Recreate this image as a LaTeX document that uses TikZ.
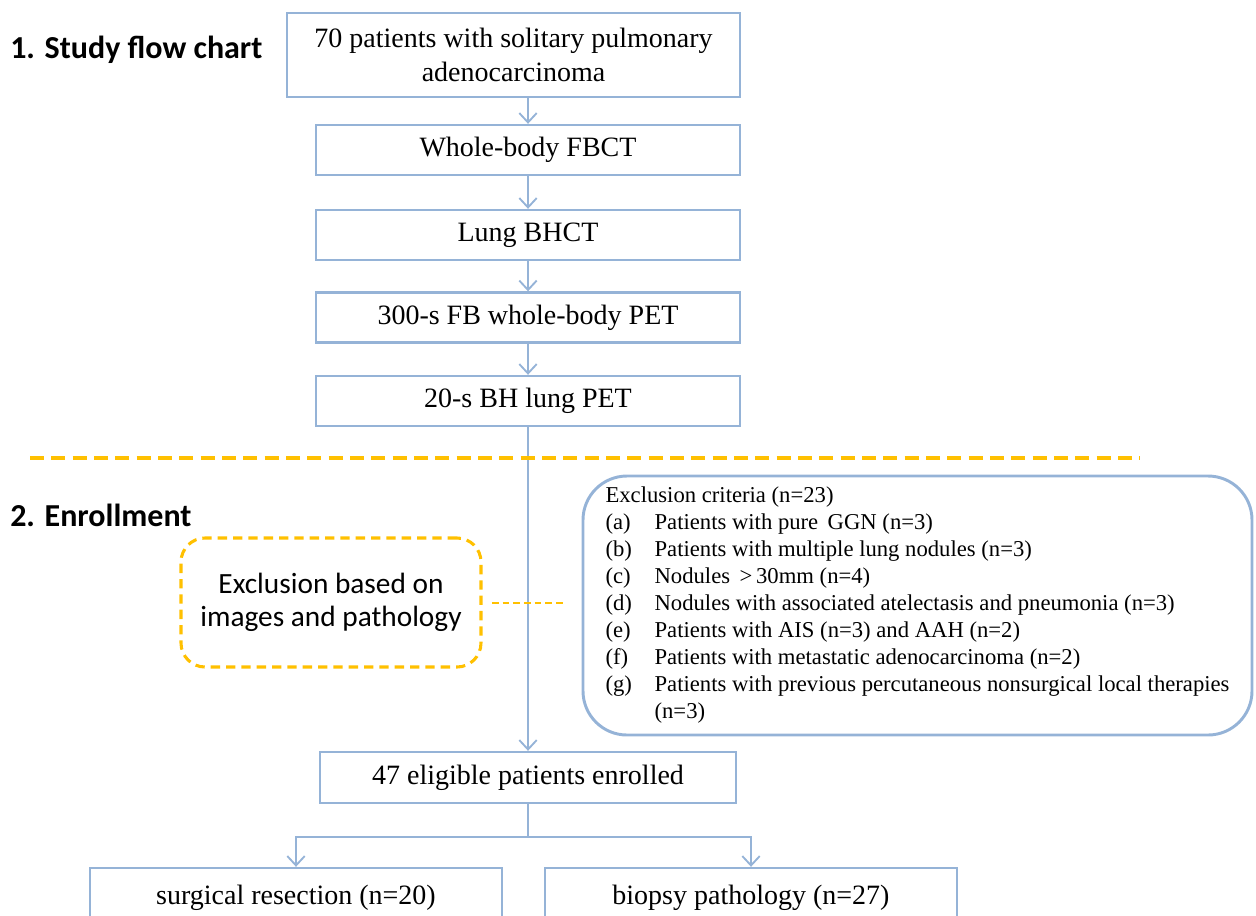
\documentclass[tikz,border=0pt]{standalone}
\usepackage{fontspec}
\setmainfont{Liberation Serif}
\newfontfamily\calib{Carlito}
\usetikzlibrary{arrows.meta,calc}
\definecolor{boxblue}{RGB}{149,179,215}
\definecolor{dashorange}{RGB}{255,192,0}
\begin{document}
\begin{tikzpicture}[x=0.75pt,y=-0.75pt,
  flow/.style={draw=boxblue,line width=1.8pt,minimum height=37.5pt,inner sep=0pt,
    font=\fontsize{21}{25}\selectfont,align=center},
  link/.style={draw=boxblue,line width=1.6pt},
  arr/.style={link,-{Straight Barb[length=7pt,width=13pt,line width=1.4pt]}},
  heading/.style={anchor=west,inner sep=0pt,font=\calib\bfseries\fontsize{24}{28}\selectfont},
  sep/.style={draw=dashorange,line width=2.3pt,dash pattern=on 10.5pt off 5.5pt},
  obox/.style={draw=dashorange,line width=2.3pt,dash pattern=on 7pt off 4.5pt,rounded corners=18pt,
    minimum width=225pt,minimum height=96.75pt,inner sep=0pt,align=center,
    font=\calib\fontsize{22}{25}\selectfont},
  bbox/.style={draw=boxblue,line width=2.2pt,rounded corners=33pt,minimum width=501.75pt,
    minimum height=194.25pt,inner sep=0pt,font=\fontsize{17}{20.25}\selectfont}]
\useasboundingbox (0,0) rectangle (1256,915);
\clip (0,0) rectangle (1256,915);

\node[heading] (t1) at (10,50) {1. Study flow chart};
\node[heading] (t2) at (10,515) {2. Enrollment};

\node[flow,minimum width=339.75pt,minimum height=63pt] (b1) at (513.5,55) {70 patients with solitary pulmonary\\adenocarcinoma};
\node[flow,minimum width=318pt] (b2) at (528,150) {Whole-body FBCT};
\node[flow,minimum width=318pt] (b3) at (528,235) {Lung BHCT};
\node[flow,minimum width=318pt] (b4) at (528,317.5) {300-s FB whole-body PET};
\node[flow,minimum width=318pt] (b5) at (528,401) {20-s BH lung PET};
\node[flow,minimum width=312pt,minimum height=38.25pt] (b6) at (528,777.5) {47 eligible patients enrolled};
\node[flow,minimum width=309pt,minimum height=45pt] (b7) at (296,898) {surgical resection (n=20)};
\node[flow,minimum width=309pt,minimum height=45pt] (b8) at (751,898) {biopsy pathology (n=27)};

\draw[arr] (b1.south -| b2.north) -- (b2.north);
\draw[arr] (b2) -- (b3);
\draw[arr] (b3) -- (b4);
\draw[arr] (b4) -- (b5);
\draw[arr] (b5) -- (b6);
\draw[link] (b6.south) -- ($(b6.south)+(0,33)$) coordinate (sp);
\draw[arr] (sp) -| (b7.north);
\draw[arr] (sp) -| (b8.north);

\draw[sep] (30,458) -- (1140,458);

\node[obox] (ob) at (331,602.5) {Exclusion based on\\images and pathology};
\node[bbox] (cb) at (917.5,605.5) {%
  \renewcommand{\arraystretch}{1}%
  \begin{tabular}{@{}l@{\hspace{17pt}}l@{}}
  \multicolumn{2}{@{}l@{}}{Exclusion criteria (n=23)}\\
  (a) & Patients with pure\, GGN (n=3)\\
  (b) & Patients with multiple lung nodules (n=3)\\
  (c) & Nodules \,\textgreater\,30mm (n=4)\\
  (d) & Nodules with associated atelectasis and pneumonia (n=3)\\
  (e) & Patients with AIS (n=3) and AAH (n=2)\\
  (f) & Patients with metastatic adenocarcinoma (n=2)\\
  (g) & Patients with previous percutaneous nonsurgical local therapies\\
      & (n=3)
  \end{tabular}};
\draw[draw=dashorange,line width=1.5pt,dash pattern=on 5pt off 3pt,shorten <=7pt,shorten >=12pt] (ob.east) -- (ob.east -| cb.west);
\end{tikzpicture}
\end{document}
